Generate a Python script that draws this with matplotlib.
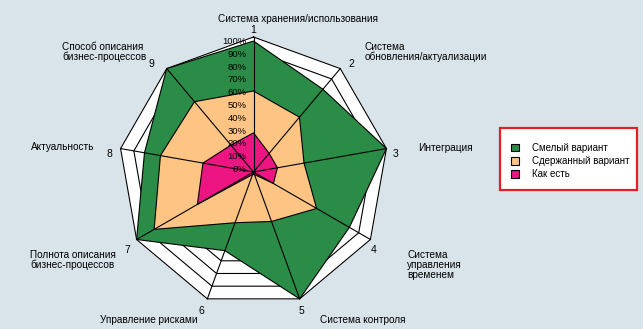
import numpy as np
import matplotlib.pyplot as plt
from matplotlib.patches import Rectangle

plt.rcParams['font.family'] = ['Liberation Sans', 'DejaVu Sans']

# оси диаграммы
axis_numbers = ['1', '2', '3', '4', '5', '6', '7', '8', '9']
categories = ['Система хранения/использования',
              'Система\nобновления/актуализации',
              'Интеграция',
              'Система\nуправления\nвременем',
              'Система контроля',
              'Управление рисками',
              'Полнота описания\nбизнес-процессов',
              'Актуальность',
              'Способ описания\nбизнес-процессов']

# значения, %
bold = [97, 80, 100, 82, 100, 62, 100, 82, 100]
moderate = [60, 53, 38, 54, 39, 40, 85, 70, 68]
current = [29, 18, 18, 17, 2, 2, 48, 38, 26]
series_names = ['Смелый вариант', 'Сдержанный вариант', 'Как есть']
ticks = list(range(0, 101, 10))

bg = '#d8e3ea'
colors = ['#2a8c46', '#fdc484', '#ec1582']

W, H = 643, 329
fig = plt.figure(figsize=(W / 100, H / 100), dpi=100)
fig.patch.set_facecolor(bg)
ax = fig.add_axes([0, 0, 1, 1])
ax.set_facecolor(bg)

# центр и масштаб (пикселей на 1%)
cx, cy, k = 253.5, 172, 1.35
ax.set_xlim(-cx / k, (W - cx) / k)
ax.set_ylim(-(H - cy) / k, cy / k)
ax.axis('off')

angles = np.arange(len(categories)) * 2 * np.pi / len(categories)


def polar_xy(vals):
    v = np.asarray(vals, dtype=float)
    return v * np.sin(angles), v * np.cos(angles)


# сетка
x, y = polar_xy([100] * 9)
ax.fill(x, y, color='white', zorder=1)
for t in ticks[1:]:
    x, y = polar_xy([t] * 9)
    ax.plot(np.r_[x, x[0]], np.r_[y, y[0]], color='black', lw=0.8, zorder=2)

# ряды
handles = []
for vals, col, name in zip([bold, moderate, current], colors, series_names):
    x, y = polar_xy(vals)
    h = ax.fill(x, y, facecolor=col, edgecolor='black', lw=0.8, zorder=3, label=name)
    handles.append(h[0])

# лучи
xe, ye = polar_xy([100] * 9)
for xi, yi in zip(xe, ye):
    ax.plot([0, xi], [0, yi], color='black', lw=0.8, zorder=4)

# подписи шкалы
for t in ticks:
    ax.text(-5.0, 2 + 0.945 * t, f'{t}%', ha='right', va='center',
            fontsize=6.8, zorder=5)

# номера осей
num_offsets = [(0, 7), (11, 5), (9, -5), (3, -11), (2, -12),
               (-6, -12), (-9, -10), (-11, -5), (-15, 5)]
for num, xi, yi, off in zip(axis_numbers, xe, ye, num_offsets):
    ax.annotate(num, (xi, yi), xytext=off, textcoords='offset pixels',
                ha='center', va='center', fontsize=7.5, zorder=5)

# названия осей (x, y в пикселях, выравнивание)
label_pos = [(298, 19, 'center'), (365, 52, 'left'), (418, 148, 'left'),
             (407, 265, 'left'), (320, 320, 'left'), (100, 320, 'left'),
             (30, 260, 'left'), (31, 147, 'left'), (62, 52, 'left')]
for text, (px, py, ha) in zip(categories, label_pos):
    fig.text(px / W, 1 - py / H, text, ha=ha, va='center', fontsize=7.2,
             linespacing=1.0)

# легенда
fig.patches.append(Rectangle((500 / W, 1 - 190 / H), 137 / W, 62 / H,
                             transform=fig.transFigure, facecolor='white',
                             edgecolor='#e41e26', lw=1.6, zorder=0))
leg = fig.legend(handles=handles, loc='upper left',
                 bbox_to_anchor=(511 / W, 1 - 143 / H), frameon=False,
                 fontsize=7, handlelength=0.8, handleheight=0.8,
                 handletextpad=1.4, labelspacing=0.33, borderpad=0,
                 borderaxespad=0)

fig.savefig('out.png', dpi=100, facecolor=bg)
